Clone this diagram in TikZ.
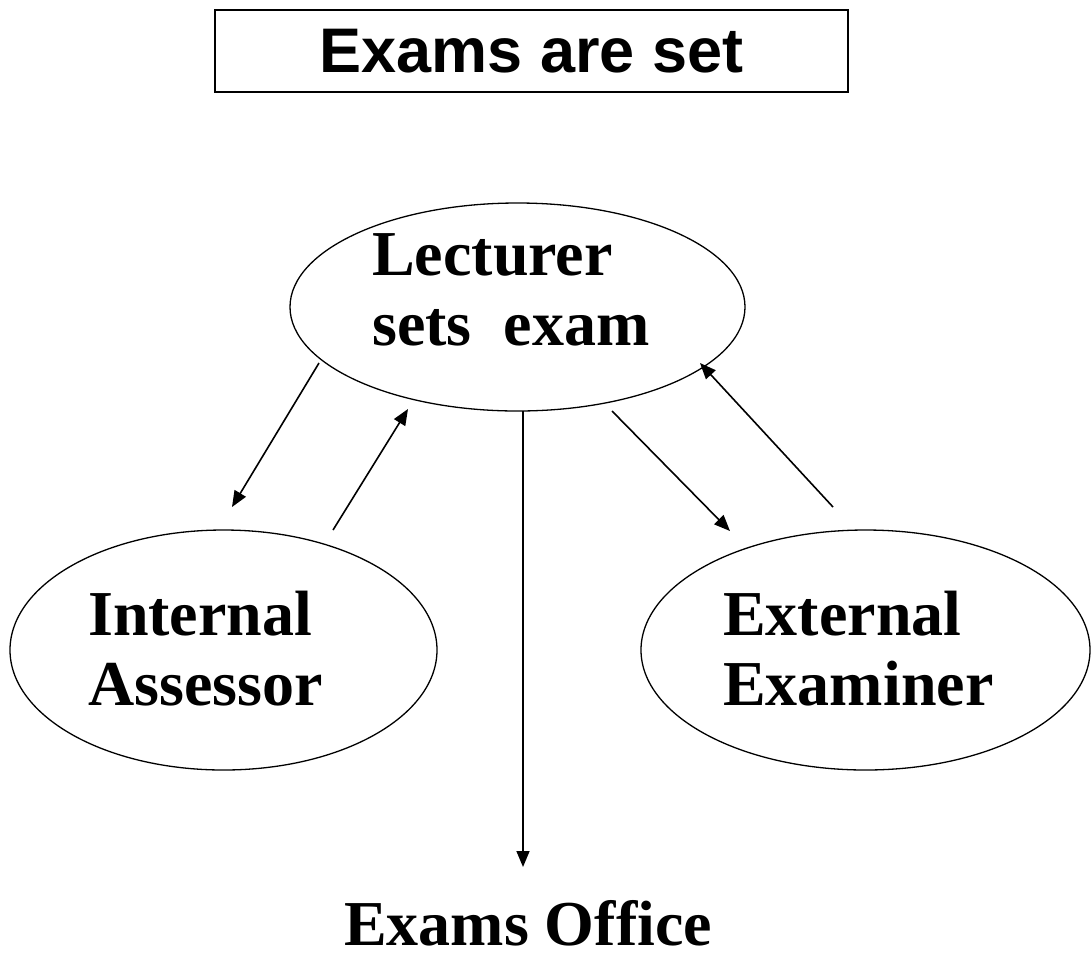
\documentclass[tikz,border=0pt]{standalone}
\usepackage{fontspec}
\setmainfont{Liberation Serif}
\newfontfamily\titlefont{Liberation Sans}
\usetikzlibrary{shapes.geometric,arrows.meta}
\tikzset{
  oval/.style={draw, ellipse, line width=1.3pt, inner sep=0pt},
  lbl/.style={anchor=base west, inner sep=0pt, font=\fontsize{64}{70}\selectfont\bfseries},
  conn/.style={line width=1.6pt, -{Triangle[length=16pt,width=13pt]}},
}
\begin{document}
\begin{tikzpicture}[x=1pt,y=-1pt]
\useasboundingbox (0,0) rectangle (1091,954);
% title
\node[draw, line width=1.5pt, minimum width=633pt, minimum height=82pt, inner sep=0pt,
      font=\titlefont\fontsize{63}{70}\selectfont\bfseries] (title) at (531.5,51) {Exams are set};
% ellipses
\node[oval, minimum width=455pt, minimum height=208pt] (lect) at (517.5,307) {};
\node[oval, minimum width=427pt, minimum height=240pt] (int) at (223.5,650) {};
\node[oval, minimum width=449pt, minimum height=240pt] (ext) at (865.5,650) {};
% texts
\node[lbl] (t1) at (372,275) {Lecturer};
\node[lbl] (t2) at (372,345) {sets\ \ exam};
\node[lbl] (t3) at (88,635) {Internal};
\node[lbl] (t4) at (88,705) {Assessor};
\node[lbl] (t5) at (723,635) {External};
\node[lbl] (t6) at (723,705) {Examiner};
\node[anchor=base, inner sep=0pt, font=\fontsize{64}{70}\selectfont\bfseries] (office) at (528,945) {Exams Office};
% connector ends
\coordinate (a1) at (319,363);
\coordinate (a2) at (232,507);
\coordinate (b1) at (333,530);
\coordinate (b2) at (408,409);
\coordinate (c1) at (523,411);
\coordinate (c2) at (523,867);
\coordinate (d1) at (612,411);
\coordinate (d2) at (730,531);
\coordinate (e1) at (833,507);
\coordinate (e2) at (700,363);
\draw[conn] (a1) -- (a2);
\draw[conn] (b1) -- (b2);
\draw[conn] (c1) -- (c2);
\draw[conn] (d1) -- (d2);
\draw[conn] (e1) -- (e2);
\end{tikzpicture}
\end{document}
